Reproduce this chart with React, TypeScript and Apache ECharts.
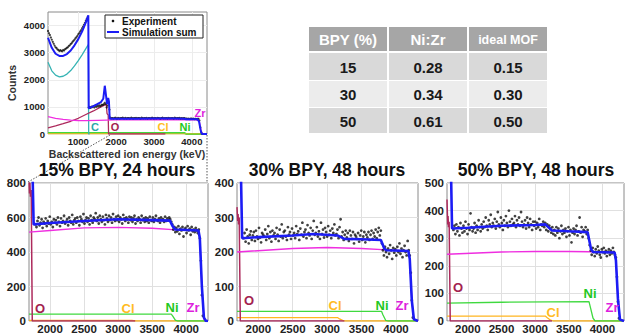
import React, { useEffect, useRef } from 'react';
import * as echarts from 'echarts';

const FONT = '"Liberation Sans", Arial, Helvetica, sans-serif';

// ---------- Inset: full RBS spectrum ----------
const insetExpStart = 200;
const insetExpStep = 25;
const insetExpCounts = [
  3800, 3720, 3650, 3560, 3480, 3400, 3330, 3260, 3200, 3170,
  3120, 3100, 3060, 3090, 3070, 3050, 3100, 3080, 3130, 3150,
  3180, 3200, 3250, 3270, 3320, 3350, 3400, 3440, 3480, 3530,
  3570, 3620, 3680, 3720, 3780, 3830, 3900, 3960, 4030, 4100,
  4180, 4250, 4320,
  980, 1000, 960, 1010, 990, 1030, 980, 1040, 1000, 1050,
  1010, 1060, 1020, 1050, 1080, 1070, 1100, 1150, 1100, 980,
  1050, 1150, 900, 600,
  575, 590, 570, 585, 600, 580, 565, 595, 580, 570,
  590, 585, 600, 575, 580, 595, 570, 585, 590, 580,
  575, 600, 585, 570, 590, 580, 595, 575, 585, 590,
  580, 570, 600, 585, 575, 590, 580, 595, 570, 585,
  590, 575, 580, 600, 585, 570, 590, 580, 575, 595,
  585, 580, 570, 590, 600, 575, 585, 580, 590, 570,
  595, 580, 585, 575, 590, 580, 570, 600, 585, 575,
  590, 580, 595, 570, 585, 580, 575, 590, 560, 570,
  555, 565, 560, 550, 570, 560, 555, 565, 550, 560,
  545, 555,
  560, 500, 250, 60, 0,
];
const insetSum = [
  [200, 3550], [300, 3180], [400, 2960], [500, 2880], [600, 2880], [700, 2950],
  [800, 3080], [900, 3270], [1000, 3500], [1100, 3780], [1200, 4120], [1265, 4380],
  [1275, 950], [1300, 960], [1400, 1030], [1500, 1100], [1600, 1180], [1660, 1300],
  [1700, 1780], [1730, 1450], [1760, 1100], [1790, 1330], [1810, 1200], [1830, 560],
  [2000, 560], [2500, 565], [3000, 570], [3500, 568], [3800, 565], [3850, 545],
  [4150, 540], [4190, 460], [4230, 150], [4260, 10], [4300, 0], [4400, 0],
];
const insetC = [
  [200, 2650], [300, 2330], [400, 2170], [500, 2110], [600, 2130], [700, 2210],
  [800, 2340], [900, 2510], [1000, 2710], [1100, 2920], [1200, 3150], [1265, 3300],
  [1275, 0], [1300, 0],
];
const insetO = [
  [200, 230], [400, 300], [600, 380], [800, 470], [1000, 580], [1200, 720],
  [1400, 850], [1600, 1000], [1740, 1100], [1760, 750], [1790, 700], [1800, 0], [3300, 0],
];
const insetZr = [
  [200, 640], [400, 580], [600, 540], [800, 510], [1000, 495], [1200, 490], [1500, 500],
  [2000, 520], [3000, 530], [3800, 525], [4150, 520], [4200, 450], [4250, 100], [4280, 0], [4400, 0],
];
const insetNi = [[200, 40], [3800, 40], [3850, 0], [4400, 0]];
const insetCl = [[200, 5], [3200, 5], [3250, 0], [4400, 0]];

// ---------- Zoomed panels ----------
const panelExpStart = 1785;
const panelExpStep = 15;
const bpy15Exp = [
  560, 545, 580, 600, 555, 570, 590, 540, 575, 565,
  595, 550, 580, 565, 605, 560, 575, 545, 590, 570,
  585, 560, 600, 575, 550, 595, 570, 580, 610, 565,
  575, 590, 555, 600, 580, 570, 615, 560, 585, 595,
  570, 600, 580, 555, 605, 590, 575, 620, 565, 585,
  600, 575, 595, 560, 610, 585, 570, 600, 590, 625,
  580, 600, 565, 610, 590, 575, 605, 585, 560, 615,
  595, 575, 610, 585, 600, 570, 620, 590, 580, 605,
  585, 610, 575, 600, 590, 565, 615, 595, 580, 600,
  590, 570, 605, 585, 600, 575, 595, 610, 565, 590,
  580, 600, 590, 570, 610, 585, 595, 575, 600, 580,
  595, 570, 605, 585, 580, 600, 575, 590, 610, 585,
  580, 595, 570, 600, 585, 590, 575, 605, 580, 595,
  585, 600, 590, 575,
  560, 530, 545, 515, 540, 520, 550, 505, 535, 525,
  545, 490, 530, 540, 510, 550, 525, 535, 500, 545,
  520, 530, 515, 540, 525, 510, 530,
  480, 350, 150, 30,
];
const bpy30Exp = [
  240, 255, 230, 265, 245, 225, 250, 260, 235, 248,
  258, 232, 262, 245, 238, 270, 242, 228, 255, 250,
  245, 265, 235, 252, 275, 240, 258, 230, 262, 248,
  255, 238, 270, 250, 232, 265, 245, 280, 240, 258,
  262, 245, 235, 272, 250, 258, 238, 268, 248, 255,
  240, 275, 252, 260, 235, 268, 250, 285, 245, 258,
  265, 240, 278, 255, 248, 270, 238, 262, 290, 250,
  255, 272, 245, 260, 238, 285, 252, 265, 242, 270,
  258, 245, 275, 250, 262, 240, 268, 255, 280, 248,
  252, 265, 240, 272, 295, 245, 258, 235, 250, 262,
  242, 255, 232, 262, 248, 238, 258, 225, 250, 245,
  238, 255, 230, 248, 262, 235, 245, 258, 228, 250,
  242, 258, 235, 250, 262, 238, 255, 245, 265, 240,
  258, 270, 248, 262,
  225, 205, 190, 215, 200, 185, 210, 195, 220, 205,
  180, 212, 198, 208, 190, 215, 200, 225, 195, 210,
  185, 205, 218, 200, 190, 232, 205,
  190, 140, 60, 10,
];
const bpy50Exp = [
  330, 345, 315, 350, 325, 340, 310, 355, 335, 320,
  345, 325, 360, 335, 315, 350, 330, 390, 340, 325,
  335, 355, 320, 345, 330, 365, 340, 325, 350, 335,
  360, 340, 375, 345, 330, 365, 350, 385, 340, 355,
  345, 370, 335, 360, 395, 350, 340, 375, 355, 330,
  365, 345, 380, 355, 340, 400, 360, 345, 370, 350,
  355, 380, 340, 365, 350, 375, 345, 395, 360, 340,
  350, 365, 335, 375, 355, 340, 370, 350, 330, 360,
  345, 360, 335, 355, 340, 370, 330, 350, 345, 360,
  340, 355, 330, 350, 325, 345, 335, 320, 340, 315,
  330, 310, 340, 320, 335, 300, 325, 345, 315, 330,
  320, 335, 305, 325, 340, 310, 330, 285, 320, 335,
  315, 330, 345, 310, 325, 375, 320, 340, 305, 330,
  325, 340, 315, 330,
  300, 275, 255, 240, 265, 250, 235, 260, 245, 270,
  255, 240, 230, 260, 250, 265, 245, 255, 235, 250,
  260, 240, 255, 245, 265, 250, 240,
  230, 160, 70, 10,
];

const bpy15Sum = [
  [1740, 900], [1758, 560], [2000, 568], [2500, 580], [3000, 590], [3500, 585],
  [3760, 582], [3800, 550], [3840, 530], [4180, 525], [4200, 480], [4230, 200],
  [4260, 20], [4290, 0], [4320, 0],
];
const bpy15O = [
  [1690, 820], [1697, 740], [1704, 800], [1711, 720], [1722, 760], [1738, 0], [3250, 0],
];
const bpy15Zr = [
  [1690, 515], [2000, 525], [2500, 540], [3000, 543], [3500, 538], [3800, 530],
  [4180, 525], [4200, 480], [4230, 200], [4260, 10], [4290, 0], [4320, 0],
];
const bpy15Ni = [[1690, 40], [3780, 40], [3800, 30], [3840, 5], [3870, 0], [4320, 0]];
const bpy15Cl = [[1690, 3], [3200, 3], [3260, 0], [4320, 0]];

const bpy30Sum = [
  [1745, 450], [1765, 240], [2000, 243], [2500, 248], [2800, 252], [3150, 248],
  [3250, 238], [3500, 237], [3780, 235], [3830, 210], [3860, 205], [4180, 203],
  [4200, 180], [4230, 60], [4260, 5], [4320, 0],
];
const bpy30O = [
  [1690, 330], [1700, 290], [1706, 310], [1712, 280], [1722, 300], [1738, 0], [3250, 0],
];
const bpy30Zr = [
  [1690, 200], [2500, 210], [3000, 213], [3500, 210], [3800, 207], [4180, 203],
  [4200, 180], [4230, 60], [4260, 5], [4320, 0],
];
const bpy30Ni = [[1690, 28], [3790, 28], [3810, 18], [3850, 2], [3880, 0], [4320, 0]];
const bpy30Cl = [[1690, 10], [3150, 10], [3180, 6], [3230, 1], [3260, 0], [4320, 0]];

const bpy50Sum = [
  [1745, 600], [1765, 335], [2000, 338], [2500, 345], [3000, 348], [3150, 350],
  [3250, 328], [3500, 325], [3780, 322], [3830, 260], [3860, 250], [4180, 248],
  [4200, 220], [4230, 80], [4260, 5], [4320, 0],
];
const bpy50O = [
  [1690, 440], [1700, 350], [1706, 380], [1712, 340], [1722, 360], [1738, 0], [3250, 0],
];
const bpy50Zr = [
  [1690, 242], [2500, 250], [3000, 252], [3500, 252], [3800, 251], [4180, 249],
  [4200, 220], [4230, 80], [4260, 5], [4320, 0],
];
const bpy50Ni = [[1690, 65], [2500, 68], [3800, 70], [3820, 50], [3860, 10], [3890, 0], [4320, 0]];
const bpy50Cl = [[1690, 18], [3150, 18], [3180, 12], [3230, 3], [3270, 0], [4320, 0]];

const panelTitles = ['15% BPY, 24 hours', '30% BPY, 48 hours', '50% BPY, 48 hours'];
const panelYMax = [800, 400, 500];
const panelYInterval = [200, 100, 100];

const insetXTicks = [1000, 2000, 3000, 4000];
const insetYTicks = [0, 1000, 2000, 3000, 4000];
const panelXTicks = [2000, 2500, 3000, 3500, 4000];

// ---------- Table ----------
const tableHeader = ['BPY (%)', 'Ni:Zr', 'ideal MOF'];
const bpyPercent = [15, 30, 50];
const niZrRatio = [0.28, 0.34, 0.61];
const idealMof = [0.15, 0.3, 0.5];

const COL = {
  sum: '#1c1cf5',
  C: '#36b4b4',
  O: '#ad2a5c',
  Zr: '#ef2ee0',
  Ni: '#3fd93f',
  Cl: '#ffb520',
};
const LBL = {
  C: '#2aa8a8',
  O: '#a3234f',
  Cl: '#ffbb22',
  Ni: '#22c822',
  Zr: '#dd1fdd',
};

const grids = [
  { left: 48, top: 12, width: 159, height: 122 },
  { left: 29, top: 183, width: 179, height: 138 },
  { left: 237, top: 183, width: 181, height: 138 },
  { left: 447, top: 183, width: 177, height: 138 },
];

function lineS(idx: number, data: number[][], color: string, width: number, z: number) {
  return {
    type: 'line',
    xAxisIndex: idx,
    yAxisIndex: idx,
    data,
    symbol: 'none',
    showSymbol: false,
    clip: true,
    silent: true,
    lineStyle: { color, width },
    itemStyle: { color },
    z,
  };
}
function dotS(idx: number, counts: number[], start: number, step: number, size: number) {
  return {
    type: 'scatter',
    xAxisIndex: idx,
    yAxisIndex: idx,
    data: counts.map((c, i) => [start + i * step, c]),
    symbol: 'circle',
    symbolSize: size,
    silent: true,
    itemStyle: { color: '#111' },
    z: 3,
  };
}

function txt(text: string, x: number, y: number, size: number, color: string, extra: any = {}) {
  const { align, ...rest } = extra;
  return {
    type: 'text',
    x,
    y,
    silent: true,
    z: 100,
    ...rest,
    style: {
      text,
      font: `bold ${size}px ${FONT}`,
      fill: color,
      textAlign: align || 'center',
      align: align || 'center',
      textVerticalAlign: 'middle',
      verticalAlign: 'middle',
    },
  };
}

const plain = (v: number) => String(v);

function buildOption() {
  const xAxes: any[] = [];
  const yAxes: any[] = [];
  grids.forEach((_, i) => {
    const inset = i === 0;
    const xt = inset ? insetXTicks : panelXTicks;
    xAxes.push({
      type: 'value',
      gridIndex: i,
      min: inset ? 200 : 1690,
      max: inset ? 4400 : 4320,
      axisLine: { show: false },
      axisTick: { show: false, customValues: xt },
      axisLabel: {
        customValues: xt,
        formatter: plain,
        fontFamily: FONT,
        fontWeight: 'bold',
        fontSize: inset ? 9.5 : 11.5,
        color: '#222',
        margin: 2,
      },
      splitLine: { show: true, lineStyle: { color: inset ? '#ececec' : '#e0e0e0', width: 1 } },
    });
    const yax: any = {
      type: 'value',
      gridIndex: i,
      min: 0,
      axisLine: { show: false },
      axisTick: { show: false },
      axisLabel: {
        formatter: plain,
        fontFamily: FONT,
        fontWeight: 'bold',
        fontSize: inset ? 9.5 : 11.5,
        color: '#222',
        margin: 3,
      },
      splitLine: { show: true, lineStyle: { color: inset ? '#ececec' : '#e0e0e0', width: 1 } },
    };
    if (inset) {
      yax.max = 4500;
      yax.axisLabel.customValues = insetYTicks;
      yax.axisTick.customValues = insetYTicks;
    } else {
      yax.max = panelYMax[i - 1];
      yax.interval = panelYInterval[i - 1];
    }
    yAxes.push(yax);
  });

  const series: any[] = [
    lineS(0, insetNi, COL.Ni, 2, 2),
    lineS(0, insetCl, COL.Cl, 1.2, 2),
    lineS(0, insetC, COL.C, 1.3, 2),
    lineS(0, insetO, COL.O, 1.3, 2),
    lineS(0, insetZr, COL.Zr, 1.3, 2),
    lineS(0, insetSum, COL.sum, 2, 4),
    dotS(0, insetExpCounts, insetExpStart, insetExpStep, 2.2),
  ];
  const panels = [
    { exp: bpy15Exp, sum: bpy15Sum, O: bpy15O, Zr: bpy15Zr, Ni: bpy15Ni, Cl: bpy15Cl },
    { exp: bpy30Exp, sum: bpy30Sum, O: bpy30O, Zr: bpy30Zr, Ni: bpy30Ni, Cl: bpy30Cl },
    { exp: bpy50Exp, sum: bpy50Sum, O: bpy50O, Zr: bpy50Zr, Ni: bpy50Ni, Cl: bpy50Cl },
  ];
  panels.forEach((p, k) => {
    const i = k + 1;
    series.push(
      lineS(i, p.Cl, COL.Cl, 1.3, 2),
      lineS(i, p.Ni, COL.Ni, 1.3, 2),
      lineS(i, p.O, COL.O, 1.5, 2),
      lineS(i, p.Zr, COL.Zr, 1.4, 2),
      dotS(i, p.exp, panelExpStart, panelExpStep, 2.8),
      lineS(i, p.sum, COL.sum, 2.6, 4),
    );
  });

  // table graphics
  const colX = [309, 389, 469];
  const colW = 78;
  const rowY = [27, 53, 81, 108];
  const rowH = [24, 27, 26, 25];
  const rowFill = ['#a6a6a6', '#d9d9d9', '#ececec', '#d9d9d9'];
  const tableEls: any[] = [];
  const bodyRows = bpyPercent.map((b, r) => [String(b), niZrRatio[r].toFixed(2), idealMof[r].toFixed(2)]);
  const allRows = [tableHeader, ...bodyRows];
  allRows.forEach((row, r) => {
    row.forEach((cell, c) => {
      tableEls.push({
        type: 'rect',
        silent: true,
        shape: { x: colX[c], y: rowY[r], width: colW, height: rowH[r] },
        style: { fill: rowFill[r] },
        z: 50,
      });
      const isHead = r === 0;
      const size = isHead ? (c === 2 ? 12.5 : 15) : 15;
      tableEls.push(
        txt(cell, colX[c] + colW / 2, rowY[r] + rowH[r] / 2 + 0.5, size, isHead ? '#ffffff' : '#1a1a1a')
      );
    });
  });

  const titleX = [117, 327, 536];
  const graphics: any[] = [
    ...tableEls,
    ...panelTitles.map((t, k) => txt(t, titleX[k], 170, 17.5, '#111')),
    // inset axis titles
    txt('Counts', 12, 83, 10.5, '#333', { rotation: Math.PI / 2 }),
    txt('Backscattered ion energy (keV)', 127, 154, 10.5, '#333'),
    // inset legend
    {
      type: 'rect',
      silent: true,
      z: 90,
      shape: { x: 105, y: 15, width: 98, height: 23 },
      style: { fill: '#ffffff', stroke: '#222', lineWidth: 1 },
    },
    { type: 'circle', silent: true, z: 95, shape: { cx: 113, cy: 21, r: 1.3 }, style: { fill: '#111' } },
    txt('Experiment', 122, 21.5, 10, '#111', { align: 'left' }),
    {
      type: 'line',
      silent: true,
      z: 95,
      shape: { x1: 107, y1: 32, x2: 119, y2: 32 },
      style: { stroke: COL.sum, lineWidth: 2 },
    },
    txt('Simulation sum', 122, 32, 10, '#111', { align: 'left' }),
    // zoom connector lines
    {
      type: 'line',
      silent: true,
      z: 80,
      shape: { x1: 110, y1: 135, x2: 28, y2: 182 },
      style: { stroke: '#555', lineWidth: 1, lineDash: [1.5, 1.5] },
    },
    {
      type: 'line',
      silent: true,
      z: 80,
      shape: { x1: 207, y1: 135, x2: 207, y2: 182 },
      style: { stroke: '#555', lineWidth: 1, lineDash: [1.5, 1.5] },
    },
    // element labels: inset
    txt('C', 95, 127, 11, LBL.C),
    txt('O', 115, 127, 11, LBL.O),
    txt('Cl', 163, 127, 11, LBL.Cl),
    txt('Ni', 185, 127, 11, LBL.Ni),
    txt('Zr', 200, 113, 11, LBL.Zr),
    // panel 1
    txt('O', 40, 308, 13, LBL.O),
    txt('Cl', 128, 308, 13, LBL.Cl),
    txt('Ni', 172, 307, 13, LBL.Ni),
    txt('Zr', 193, 307, 13, LBL.Zr),
    // panel 2
    txt('O', 249, 300, 13, LBL.O),
    txt('Cl', 335, 305, 13, LBL.Cl),
    txt('Ni', 382, 305, 13, LBL.Ni),
    txt('Zr', 402, 305, 13, LBL.Zr),
    // panel 3
    txt('O', 458, 287, 13, LBL.O),
    txt('Cl', 553, 312, 13, LBL.Cl),
    txt('Ni', 590, 293, 13, LBL.Ni),
    txt('Zr', 612, 307, 13, LBL.Zr),
  ];

  return {
    animation: false,
    backgroundColor: '#ffffff',
    grid: grids.map((g) => ({ ...g, show: true, borderColor: '#8a8a8a', borderWidth: 1, backgroundColor: 'transparent' })),
    xAxis: xAxes,
    yAxis: yAxes,
    series,
    graphic: { elements: graphics },
  };
}

export default function App() {
  const ref = useRef<HTMLDivElement>(null);
  useEffect(() => {
    if (!ref.current) return;
    const chart = echarts.init(ref.current, undefined, { renderer: 'svg' });
    chart.setOption(buildOption() as any);
    return () => chart.dispose();
  }, []);
  return (
    <div
      ref={ref}
      style={{ position: 'absolute', left: 0, top: 0, width: 626, height: 335, background: '#fff' }}
    />
  );
}
